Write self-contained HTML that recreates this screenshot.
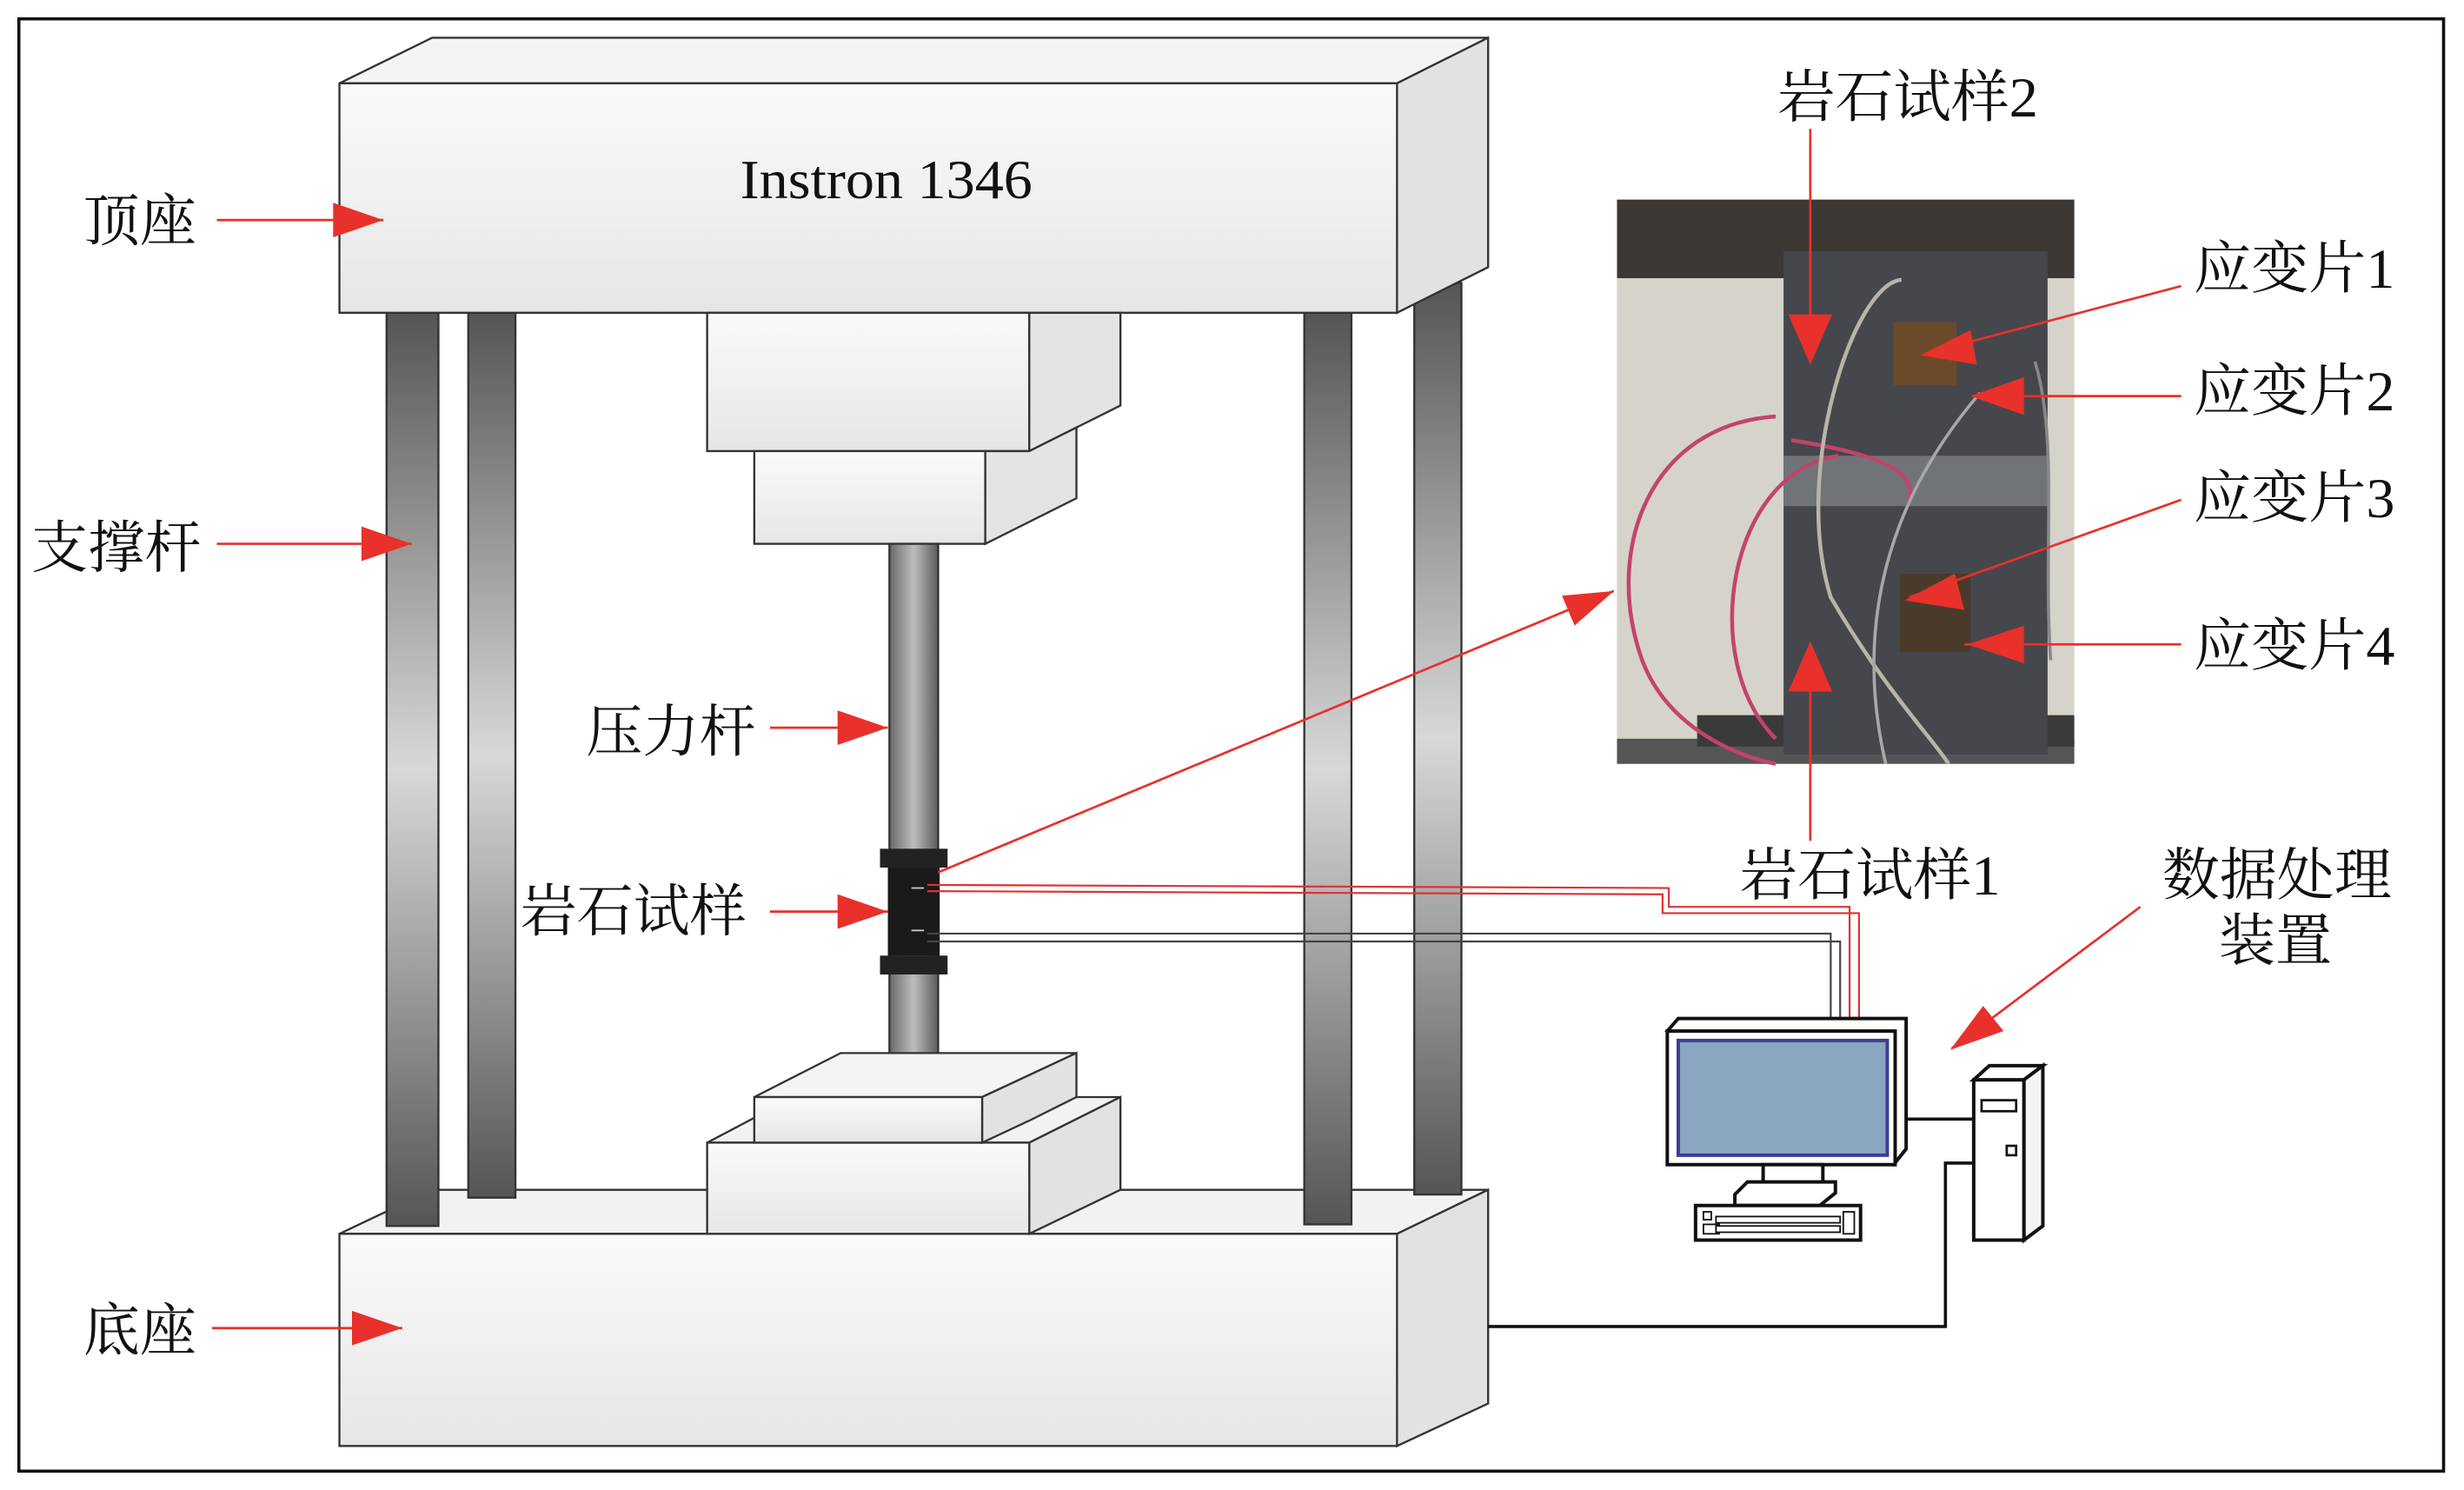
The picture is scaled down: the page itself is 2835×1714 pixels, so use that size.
<!DOCTYPE html>
<html><head><meta charset="utf-8"><style>html,body{margin:0;padding:0;background:#fff}svg{display:block}</style></head><body>
<svg width="2835" height="1714" viewBox="0 0 1568 948" preserveAspectRatio="none" xmlns="http://www.w3.org/2000/svg">
<defs>
<linearGradient id="col" x1="0" y1="0" x2="1" y2="0"><stop offset="0" stop-color="#6a6a6a"/><stop offset="0.5" stop-color="#bdbdbd"/><stop offset="1" stop-color="#5a5a5a"/></linearGradient>
<linearGradient id="colv" x1="0" y1="0" x2="0" y2="1"><stop offset="0" stop-color="#555"/><stop offset="0.5" stop-color="#d8d8d8"/><stop offset="1" stop-color="#555"/></linearGradient>
<linearGradient id="box" x1="0" y1="0" x2="0" y2="1"><stop offset="0" stop-color="#fafafa"/><stop offset="1" stop-color="#e6e6e6"/></linearGradient>
</defs>
<rect x="12" y="12" width="1543" height="924" fill="#fff" stroke="#111" stroke-width="2"/>
<g stroke="#333" stroke-width="1.3" fill="url(#box)">
<!-- base -->
<polygon points="216,785 275,757 947,757 889,785" fill="#f2f2f2"/>
<polygon points="889,785 947,757 947,893 889,920" fill="#e2e2e2"/>
<rect x="216" y="785" width="673" height="135"/>
<!-- columns -->
<rect x="246" y="199" width="33" height="581" fill="url(#colv)"/>
<rect x="298" y="199" width="30" height="563" fill="url(#colv)"/>
<rect x="830" y="199" width="30" height="580" fill="url(#colv)"/>
<rect x="900" y="180" width="30" height="580" fill="url(#colv)"/>
<!-- top -->
<polygon points="216,53 275,24 947,24 889,53" fill="#f4f4f4"/>
<polygon points="889,53 947,24 947,170 889,199" fill="#e2e2e2"/>
<rect x="216" y="53" width="673" height="146"/>
<!-- actuator -->
<rect x="450" y="199" width="205" height="88"/>
<polygon points="655,287 713,258 713,199 655,199" fill="#e4e4e4"/>
<rect x="480" y="287" width="147" height="59"/>
<polygon points="627,346 685,317 685,272 655,287 627,287" fill="#e4e4e4"/>
<rect x="566" y="346" width="31" height="342" fill="url(#col)"/>
<!-- lower platform -->
<polygon points="450,727 505,698 713,698 655,727" fill="#f2f2f2"/>
<polygon points="655,727 713,698 713,757 655,785" fill="#e2e2e2"/>
<rect x="450" y="727" width="205" height="58"/>
<polygon points="480,698 535,670 685,670 625,698" fill="#f4f4f4"/>
<polygon points="625,698 685,670 685,698 655,713 625,727" fill="#e2e2e2"/>
<rect x="480" y="698" width="145" height="29"/>
</g>
<!-- specimen -->
<rect x="560" y="540" width="43" height="12" fill="#222"/>
<rect x="565" y="552" width="33" height="56" fill="#1a1a1a"/>
<rect x="560" y="608" width="43" height="12" fill="#222"/>
<line x1="580" y1="565" x2="588" y2="565" stroke="#ccc"/><line x1="580" y1="592" x2="588" y2="592" stroke="#ccc"/>
<!-- wires -->
<g fill="none" stroke-width="1.2">
<polyline points="590,563 1062,565 1062,577 1177,577 1177,650" stroke="#d33"/>
<polyline points="590,567 1058,569 1058,581 1183,581 1183,650" stroke="#d33"/>
<polyline points="590,594 1165,594 1165,650" stroke="#444"/>
<polyline points="590,599 1171,599 1171,650" stroke="#444"/>
</g>
<polyline points="947,844 1238,844 1238,740 1256,740" fill="none" stroke="#111" stroke-width="2"/>
<line x1="1212" y1="712" x2="1256" y2="712" stroke="#111" stroke-width="2"/>
<!-- computer -->
<g stroke="#111" stroke-width="2.2" fill="#fff">
<polygon points="1061,656 1068,648 1213,648 1213,731 1205,741"/>
<rect x="1061" y="656" width="145" height="85"/>
<rect x="1068" y="662" width="133" height="73" fill="#8aa5bf" stroke="#3b3f95"/>
<rect x="1122" y="741" width="38" height="12"/>
<polygon points="1104,760 1112,752 1168,752 1168,759 1158,767 1104,767"/>
<rect x="1079" y="767" width="105" height="22"/>
<rect x="1256" y="687" width="32" height="102"/>
<polygon points="1256,687 1266,678 1300,678 1288,687"/>
<polygon points="1288,687 1300,678 1300,780 1288,789" fill="#f4f4f4"/>
<rect x="1261" y="700" width="22" height="7" stroke-width="1.5"/>
<rect x="1277" y="729" width="6" height="6" stroke-width="1.5"/>
</g>
<g fill="#fff" stroke="#111" stroke-width="1">
<rect x="1084" y="771" width="5" height="5"/><rect x="1084" y="779" width="10" height="6"/>
<rect x="1092" y="774" width="79" height="4"/><rect x="1092" y="780" width="79" height="4"/>
<rect x="1173" y="771" width="7" height="14"/>
</g>
<!-- photo -->
<g>
<rect x="1029" y="127" width="291" height="359" fill="#d6d3cb"/>
<rect x="1029" y="127" width="291" height="50" fill="#3b3836"/>
<rect x="1029" y="470" width="291" height="16" fill="#555"/>
<rect x="1080" y="455" width="240" height="20" fill="#3a3a3a"/>
<rect x="1135" y="160" width="168" height="320" fill="#45474c"/>
<rect x="1135" y="290" width="168" height="32" fill="#707479"/>
<rect x="1205" y="205" width="40" height="40" fill="#6b4a2a"/>
<rect x="1209" y="365" width="45" height="50" fill="#4a3a2a"/>
<path d="M1130,265 C1050,270 1020,350 1045,420 C1060,460 1100,480 1130,486" fill="none" stroke="#c2446a" stroke-width="2.5"/>
<path d="M1170,290 C1100,300 1080,420 1130,470" fill="none" stroke="#c2446a" stroke-width="2.5"/>
<path d="M1140,280 C1200,290 1220,300 1215,320" fill="none" stroke="#c2446a" stroke-width="2.5"/>
<path d="M1210,178 C1180,180 1140,300 1165,380 C1200,440 1230,470 1240,486" fill="none" stroke="#b8b4a8" stroke-width="2.5"/>
<path d="M1260,250 C1200,320 1180,400 1200,486" fill="none" stroke="#a8a8a8" stroke-width="2"/>
<path d="M1295,230 C1310,280 1300,350 1305,420" fill="none" stroke="#888" stroke-width="2"/>
</g>
<!-- red arrows -->
<g stroke="#e8312a" stroke-width="1.5" fill="none">
<line x1="138" y1="140" x2="244" y2="140"/>
<line x1="138" y1="346" x2="262" y2="346"/>
<line x1="490" y1="463" x2="565" y2="463"/>
<line x1="490" y1="580" x2="565" y2="580"/>
<line x1="135" y1="845" x2="256" y2="845"/>
<line x1="597" y1="555" x2="1027" y2="376"/>
<line x1="1152" y1="82" x2="1152" y2="230"/>
<line x1="1152" y1="535" x2="1152" y2="410"/>
<line x1="1388" y1="182" x2="1225" y2="225"/>
<line x1="1388" y1="252" x2="1255" y2="252"/>
<line x1="1388" y1="318" x2="1215" y2="380"/>
<line x1="1388" y1="410" x2="1250" y2="410"/>
<line x1="1362" y1="577" x2="1242" y2="667"/>
</g>
<g fill="#e8312a">
<polygon points="212,129 244,140 212,151"/>
<polygon points="230,335 262,346 230,357"/>
<polygon points="533,452 565,463 533,474"/>
<polygon points="533,569 565,580 533,591"/>
<polygon points="224,834 256,845 224,856"/>
<polygon points="994,379 1027,376 1002,398"/>
<polygon points="1138,200 1166,200 1152,232"/>
<polygon points="1138,440 1166,440 1152,408"/>
<polygon points="1254,210 1258,232 1222,226"/>
<polygon points="1288,240 1288,264 1254,252"/>
<polygon points="1244,365 1250,388 1212,382"/>
<polygon points="1288,398 1288,422 1252,410"/>
<polygon points="1262,640 1275,656 1241,668"/>
</g>
<!-- text -->
<g font-family="'Liberation Serif','Noto Serif CJK SC',serif" font-size="36" fill="#111">
<text x="471" y="126" font-size="35" textLength="186" lengthAdjust="spacingAndGlyphs">Instron 1346</text>
<text x="53" y="153">顶座</text>
<text x="20" y="361">支撑杆</text>
<text x="373" y="478">压力杆</text>
<text x="331" y="592">岩石试样</text>
<text x="53" y="859">底座</text>
<text x="1131" y="74" textLength="166" lengthAdjust="spacingAndGlyphs">岩石试样2</text>
<text x="1107" y="569" textLength="166" lengthAdjust="spacingAndGlyphs">岩石试样1</text>
<text x="1396" y="183" textLength="128" lengthAdjust="spacingAndGlyphs">应变片1</text>
<text x="1396" y="261" textLength="128" lengthAdjust="spacingAndGlyphs">应变片2</text>
<text x="1396" y="329" textLength="128" lengthAdjust="spacingAndGlyphs">应变片3</text>
<text x="1396" y="423" textLength="128" lengthAdjust="spacingAndGlyphs">应变片4</text>
<text x="1376" y="569" textLength="146" lengthAdjust="spacingAndGlyphs">数据处理</text>
<text x="1412" y="611">装置</text>
</g>
</svg>
</body></html>
